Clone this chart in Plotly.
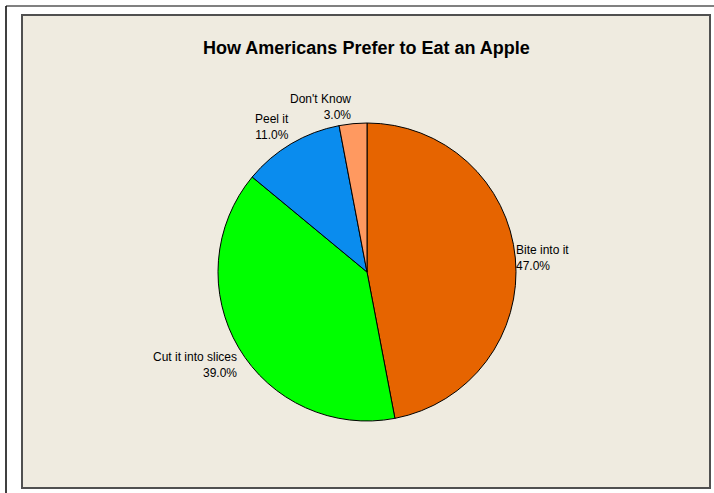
import math
import plotly.graph_objects as go

title = "How Americans Prefer to Eat an Apple"
categories = ["Bite into it", "Cut it into slices", "Peel it", "Don't Know"]
values = [47.0, 39.0, 11.0, 3.0]
colors = ["#E66400", "#00FF00", "#0A8CEE", "#FF9960"]

W, H = 714, 493
cx, cy, R = 367, 272, 149  # pixel geometry of the pie

fig = go.Figure()
fig.add_trace(go.Pie(
    labels=categories, values=values, sort=False, direction="clockwise",
    rotation=0, textinfo="none", hoverinfo="label+percent",
    marker=dict(colors=colors, line=dict(color="black", width=1)),
    domain=dict(x=[(cx - R) / W, (cx + R) / W], y=[(H - cy - R) / H, (H - cy + R) / H]),
    showlegend=False,
))

# labels placed at the middle angle of each slice
total = sum(values)
cum = 0.0
annotations = []
for lab, v in zip(categories, values):
    mid = (cum + v / 2) / total * 2 * math.pi
    cum += v
    px = cx + R * math.sin(mid)
    py = cy - R * math.cos(mid)
    right = math.sin(mid) >= 0
    xa = "left" if right else "right"
    c = math.cos(mid)
    ya = "middle" if abs(c) < 0.3 else ("bottom" if c > 0 else "top")
    annotations.append(dict(
        x=px / W, y=1 - py / H, xref="paper", yref="paper",
        text=f"{lab}<br>{v / total * 100:.1f}%", showarrow=False,
        xanchor=xa, yanchor=ya, align=xa, xshift=-1 if right else 0,
        font=dict(family="Liberation Sans, Arial, sans-serif", size=12, color="black"),
    ))

annotations.append(dict(
    x=367 / W, y=1 - 48 / H, xref="paper", yref="paper", text=f"<b>{title}</b>",
    showarrow=False, xanchor="center", yanchor="middle",
    font=dict(family="Liberation Sans, Arial, sans-serif", size=18, color="black"),
))

def P(x, y):
    return x / W, 1 - y / H

shapes = []
x0, y0 = P(22, 15)
x1, y1 = P(710, 488)
shapes.append(dict(type="rect", xref="paper", yref="paper", x0=x0, y0=y1, x1=x1, y1=y0,
                   fillcolor="#EFEBE0", line=dict(color="#505050", width=2), layer="below"))
ax, ay = P(6, 6)
bx, by = P(714, 6)
shapes.append(dict(type="line", xref="paper", yref="paper", x0=ax, y0=ay, x1=bx, y1=by,
                   line=dict(color="#808080", width=2)))
lx, ly = P(6, 493)
shapes.append(dict(type="line", xref="paper", yref="paper", x0=ax, y0=ay, x1=lx, y1=ly,
                   line=dict(color="#000000", width=1.5)))

fig.update_layout(
    width=W, height=H, margin=dict(l=0, r=0, t=0, b=0),
    paper_bgcolor="white", plot_bgcolor="white",
    annotations=annotations, shapes=shapes,
)
fig.write_html("out.html")
